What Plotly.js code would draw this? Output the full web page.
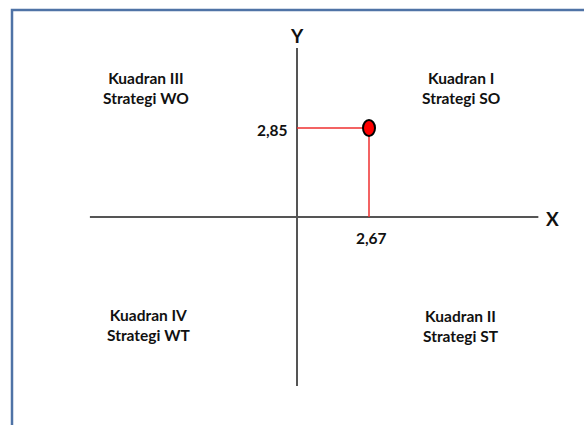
<!DOCTYPE html>
<html>
<head>
<meta charset="utf-8">
<script src="https://cdn.plot.ly/plotly-3.0.1.min.js"></script>
<style>html,body{margin:0;padding:0;background:#fff;}#chart{width:584px;height:425px;}</style>
</head>
<body>
<div id="chart"></div>
<script>
// Data
const pointX = 2.67;
const pointY = 2.85;
const pointXLabel = "2,67";
const pointYLabel = "2,85";
const quadrantTitles = ["Kuadran I", "Kuadran II", "Kuadran III", "Kuadran IV"];
const quadrantStrategies = ["Strategi SO", "Strategi ST", "Strategi WO", "Strategi WT"];
const xAxisExtent = [-7.68, 8.95];
const yAxisExtent = [-5.41, 5.41];
const axisNames = ["X", "Y"];

const W = 584, H = 425;
const xr = [-11.014, 10.643];
const yr = [-6.661, 6.949];
function px(p){ return p / W; }
function py(p){ return 1 - p / H; }

const font = {family: "Lato, 'Open Sans', sans-serif", size: 15.5, color: "#111111"};
const bigFont = {family: "Lato, 'Open Sans', sans-serif", size: 19, color: "#111111"};
const b = s => "<b>" + s + "</b>";

const traces = [
  {x: xAxisExtent, y: [0, 0], mode: "lines", line: {color: "#555555", width: 2}, hoverinfo: "skip"},
  {x: [0, 0], y: yAxisExtent, mode: "lines", line: {color: "#555555", width: 2}, hoverinfo: "skip"},
  {x: [0, pointX, pointX], y: [pointY, pointY, 0], mode: "lines", line: {color: "#f03030", width: 1.5}, hoverinfo: "skip"}
];

const shapes = [
  {type: "rect", xref: "paper", yref: "paper", x0: px(12), x1: px(600), y0: py(440), y1: py(10),
   line: {color: "#4f73a6", width: 2.5}, fillcolor: "rgba(0,0,0,0)", layer: "below"},
  {type: "circle", xref: "x", yref: "y", xsizemode: "pixel", ysizemode: "pixel",
   xanchor: pointX, yanchor: pointY, x0: -6, x1: 6, y0: -8, y1: 8,
   fillcolor: "#ff0000", line: {color: "#000000", width: 2}}
];

const anns = [
  {xref: "paper", yref: "paper", x: px(461), y: py(88), text: b(quadrantTitles[0]) + "<br>" + b(quadrantStrategies[0])},
  {xref: "paper", yref: "paper", x: px(461), y: py(326), text: b(quadrantTitles[1]) + "<br>" + b(quadrantStrategies[1])},
  {xref: "paper", yref: "paper", x: px(146), y: py(88), text: b(quadrantTitles[2]) + "<br>" + b(quadrantStrategies[2])},
  {xref: "paper", yref: "paper", x: px(148), y: py(325), text: b(quadrantTitles[3]) + "<br>" + b(quadrantStrategies[3])},
  {xref: "x", yref: "y", x: 0, y: pointY, xanchor: "right", yanchor: "middle", xshift: -7, yshift: -2, text: b(pointYLabel)},
  {xref: "x", yref: "y", x: pointX, y: 0, xanchor: "center", yanchor: "top", xshift: 2, yshift: -10, text: b(pointXLabel)},
  {xref: "x", yref: "y", x: xAxisExtent[1], y: 0, xanchor: "left", yanchor: "middle", xshift: 6, yshift: -1, text: b(axisNames[0]), font: bigFont},
  {xref: "x", yref: "y", x: 0, y: yAxisExtent[1], xanchor: "center", yanchor: "bottom", yshift: -1, text: b(axisNames[1]), font: bigFont}
].map(a => Object.assign({showarrow: false, font: font, align: "center", xanchor: "center", yanchor: "middle"}, a));

const layout = {
  width: W, height: H,
  margin: {l: 0, r: 0, t: 0, b: 0},
  paper_bgcolor: "#ffffff", plot_bgcolor: "#ffffff",
  showlegend: false,
  xaxis: {range: xr, visible: false, fixedrange: true},
  yaxis: {range: yr, visible: false, fixedrange: true},
  shapes: shapes,
  annotations: anns
};

Plotly.newPlot("chart", traces, layout, {staticPlot: true, displayModeBar: false});
</script>
</body>
</html>
